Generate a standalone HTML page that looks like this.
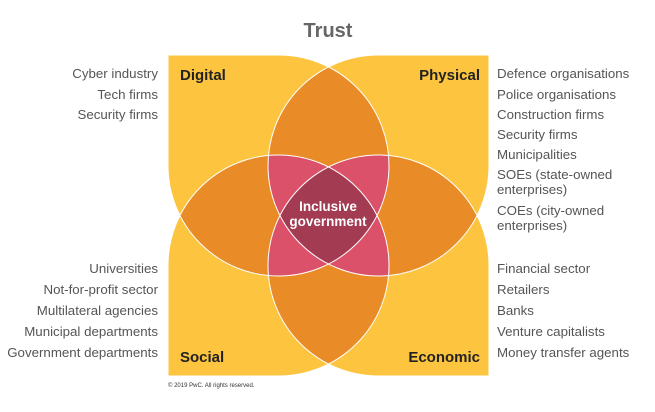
<!DOCTYPE html>
<html><head><meta charset="utf-8"><style>
html,body{margin:0;padding:0;background:#fff;width:655px;height:412px;overflow:hidden}
svg{display:block}
text{font-family:"Liberation Sans",Arial,sans-serif}
.l{font-size:13.3px;fill:#555}
.b{font-size:15px;font-weight:bold;fill:#222}
</style></head><body>
<svg width="655" height="412" viewBox="0 0 655 412">
<defs>
<path id="pA" d="M168,55 H278.5 A110.5,110.5 0 0 1 389,165.5 A110.5,110.5 0 0 1 278.5,276 A110.5,110.5 0 0 1 168,165.5 Z"/>
<path id="pB" d="M489,55 V165.5 A110.5,110.5 0 0 1 378.5,276 A110.5,110.5 0 0 1 268,165.5 A110.5,110.5 0 0 1 378.5,55 Z"/>
<path id="pC" d="M168,376 V265.5 A110.5,110.5 0 0 1 278.5,155 A110.5,110.5 0 0 1 389,265.5 A110.5,110.5 0 0 1 278.5,376 Z"/>
<path id="pD" d="M489,376 H378.5 A110.5,110.5 0 0 1 268,265.5 A110.5,110.5 0 0 1 378.5,155 A110.5,110.5 0 0 1 489,265.5 Z"/>
<clipPath id="cA"><use href="#pA"/></clipPath>
<clipPath id="cB"><use href="#pB"/></clipPath>
<clipPath id="cC"><use href="#pC"/></clipPath>
<clipPath id="cD"><use href="#pD"/></clipPath>
</defs>
<g fill="#FDC43F">
<use href="#pA"/><use href="#pB"/><use href="#pC"/><use href="#pD"/>
</g>
<g fill="#E98C28">
<g clip-path="url(#cA)"><use href="#pB"/><use href="#pC"/><use href="#pD"/></g>
<g clip-path="url(#cB)"><use href="#pC"/><use href="#pD"/></g>
<g clip-path="url(#cC)"><use href="#pD"/></g>
</g>
<g fill="#DB5169">
<g clip-path="url(#cA)"><g clip-path="url(#cB)"><use href="#pC"/><use href="#pD"/></g><g clip-path="url(#cC)"><use href="#pD"/></g></g>
<g clip-path="url(#cB)"><g clip-path="url(#cC)"><use href="#pD"/></g></g>
</g>
<g fill="#A33B52" clip-path="url(#cA)"><g clip-path="url(#cB)"><g clip-path="url(#cC)"><use href="#pD"/></g></g></g>
<g fill="none" stroke="#fff" stroke-width="1">
<use href="#pA"/><use href="#pB"/><use href="#pC"/><use href="#pD"/>
</g>
<text x="328" y="37" text-anchor="middle" style="font-size:20px;font-weight:bold;fill:#666">Trust</text>
<text x="180" y="80" class="b">Digital</text>
<text x="480" y="80" class="b" text-anchor="end">Physical</text>
<text x="180" y="362" class="b">Social</text>
<text x="480" y="362" class="b" text-anchor="end">Economic</text>
<text x="328" y="211" text-anchor="middle" style="font-size:13.5px;font-weight:bold;fill:#fff">Inclusive</text>
<text x="328" y="226" text-anchor="middle" style="font-size:13.5px;font-weight:bold;fill:#fff">government</text>
<g text-anchor="end">
<text x="158" y="78" class="l">Cyber industry</text>
<text x="158" y="99" class="l">Tech firms</text>
<text x="158" y="119" class="l">Security firms</text>
<text x="158" y="273" class="l">Universities</text>
<text x="158" y="294" class="l">Not-for-profit sector</text>
<text x="158" y="315" class="l">Multilateral agencies</text>
<text x="158" y="336" class="l">Municipal departments</text>
<text x="158" y="357" class="l">Government departments</text>
</g>
<g>
<text x="497" y="78" class="l">Defence organisations</text>
<text x="497" y="99" class="l">Police organisations</text>
<text x="497" y="119" class="l">Construction firms</text>
<text x="497" y="139" class="l">Security firms</text>
<text x="497" y="159" class="l">Municipalities</text>
<text x="497" y="179" class="l">SOEs (state-owned</text>
<text x="497" y="194" class="l">enterprises)</text>
<text x="497" y="215" class="l">COEs (city-owned</text>
<text x="497" y="230" class="l">enterprises)</text>
<text x="497" y="273" class="l">Financial sector</text>
<text x="497" y="294" class="l">Retailers</text>
<text x="497" y="315" class="l">Banks</text>
<text x="497" y="336" class="l">Venture capitalists</text>
<text x="497" y="357" class="l">Money transfer agents</text>
</g>
<text x="168" y="387" style="font-size:6px;fill:#333">© 2019 PwC. All rights reserved.</text>
</svg>
</body></html>
